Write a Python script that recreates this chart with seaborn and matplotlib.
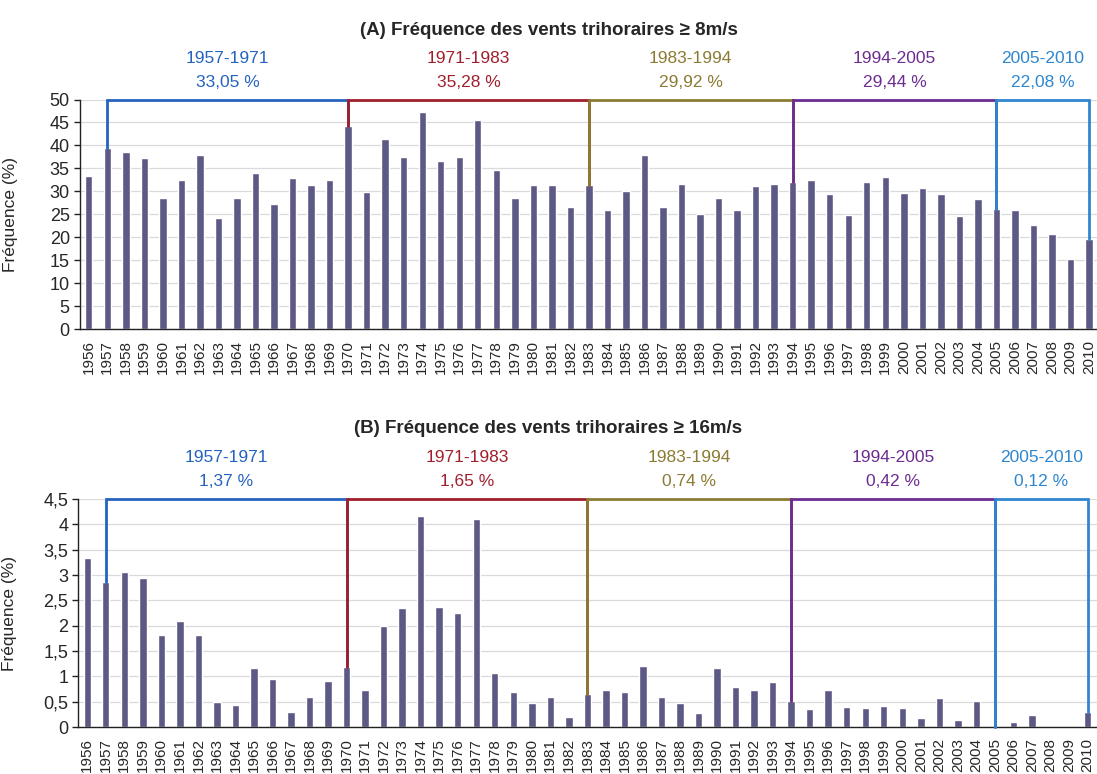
import numpy as np
import matplotlib
matplotlib.use("Agg")
import matplotlib.pyplot as plt
import matplotlib.transforms as mtransforms
import seaborn as sns

# --- data ------------------------------------------------------------------
years = [str(y) for y in range(1956, 2011)]

freq_8ms = [33.4, 39.4, 38.6, 37.2, 28.5, 32.4, 38.0, 24.2, 28.5, 34.0,
            27.3, 32.8, 31.3, 32.5, 44.3, 29.9, 41.4, 37.5, 47.2, 36.7,
            37.4, 45.6, 34.7, 28.6, 31.3, 31.3, 26.5, 31.3, 26.0, 30.0,
            38.0, 26.5, 31.6, 25.1, 28.6, 26.0, 31.2, 31.6, 32.1, 32.4,
            29.4, 24.8, 32.1, 33.2, 29.6, 30.8, 29.4, 24.6, 28.4, 26.1,
            25.9, 22.7, 20.6, 15.2, 19.7]

freq_16ms = [3.33, 2.86, 3.06, 2.95, 1.82, 2.09, 1.82, 0.49, 0.44, 1.17,
             0.94, 0.30, 0.59, 0.91, 1.19, 0.74, 2.00, 2.34, 4.16, 2.37,
             2.25, 4.10, 1.06, 0.69, 0.48, 0.59, 0.20, 0.65, 0.74, 0.69,
             1.21, 0.59, 0.48, 0.28, 1.16, 0.79, 0.73, 0.88, 0.51, 0.36,
             0.73, 0.40, 0.37, 0.41, 0.37, 0.18, 0.57, 0.14, 0.51, 0.0,
             0.10, 0.24, 0.0, 0.0, 0.29]

period_labels = ['1957-1971', '1971-1983', '1983-1994', '1994-2005', '2005-2010']
period_bounds = [('1957', '1970'), ('1970', '1983'), ('1983', '1994'),
                 ('1994', '2005'), ('2005', '2010')]
period_means_8 = ['33,05 %', '35,28 %', '29,92 %', '29,44 %', '22,08 %']
period_means_16 = ['1,37 %', '1,65 %', '0,74 %', '0,42 %', '0,12 %']
period_colors = ['#2563be', '#a01f2d', '#8b7b33', '#6d2c90', '#2e86cf']

yticks_8 = [0, 5, 10, 15, 20, 25, 30, 35, 40, 45, 50]
yticks_16 = [0, 0.5, 1, 1.5, 2, 2.5, 3, 3.5, 4, 4.5]
yticklabels_16 = ['0', '0,5', '1', '1,5', '2', '2,5', '3', '3,5', '4', '4,5']

BAR_COLOR = '#5d5985'

sns.set_style("white")
plt.rcParams['font.family'] = ['Liberation Sans', 'DejaVu Sans']


def draw_panel(ax, values, top, yticks, yticklabels, means):
    sns.barplot(x=years, y=values, color=BAR_COLOR, saturation=1,
                width=0.4, ax=ax, zorder=2)
    ax.set_xlim(-0.5, len(years) - 0.5)
    ax.set_ylim(0, top)

    ax.set_yticks(yticks)
    ax.set_yticklabels(yticklabels, fontsize=13)
    ax.yaxis.grid(True, color='#dadada', lw=0.9)
    ax.set_axisbelow(True)

    ax.set_xticks(range(len(years)))
    ax.set_xticklabels(years, rotation=90, fontsize=11)
    ax.set_xticks(np.arange(-0.5, len(years), 1), minor=True)
    ax.tick_params(axis='x', which='major', length=0, pad=8)
    ax.tick_params(axis='x', which='minor', length=4, width=1, color='#222')
    ax.tick_params(axis='y', length=4, width=1, color='#222', pad=3, left=True)

    for s in ['top', 'right']:
        ax.spines[s].set_visible(False)
    for s in ['left', 'bottom']:
        ax.spines[s].set_color('#222')
        ax.spines[s].set_linewidth(1)

    ax.set_ylabel('Fréquence (%)', fontsize=12.5)
    ax.yaxis.set_label_coords(-0.06, 0.5)
    ax.set_xlabel('')

    trans = mtransforms.blended_transform_factory(ax.transData, ax.transAxes)
    for (start, end), lab, mean, col in zip(period_bounds, period_labels, means, period_colors):
        i0, i1 = years.index(start), years.index(end)
        ax.plot([i0, i0, i1, i1], [values[i0], top, top, values[i1]],
                color=col, lw=2, clip_on=False, zorder=3,
                solid_joinstyle='miter')
        mid = (i0 + i1) / 2
        ax.text(mid, 1.18, lab, transform=trans, ha='center', va='center',
                color=col, fontsize=12.5)
        ax.text(mid, 1.075, mean, transform=trans, ha='center', va='center',
                color=col, fontsize=12.5)


fig = plt.figure(figsize=(10.97, 7.74), dpi=100)
ax_a = fig.add_axes([0.0725, 0.5749, 0.9287, 0.2965])
ax_b = fig.add_axes([0.0711, 0.0607, 0.9287, 0.2946])

draw_panel(ax_a, freq_8ms, 50, yticks_8, [str(t) for t in yticks_8], period_means_8)
draw_panel(ax_b, freq_16ms, 4.5, yticks_16, yticklabels_16, period_means_16)

fig.text(0.5, 0.961, '(A) Fréquence des vents trihoraires ≥ 8m/s',
         ha='center', va='center', fontsize=13.5, fontweight='bold')
fig.text(0.5, 0.447, '(B) Fréquence des vents trihoraires ≥ 16m/s',
         ha='center', va='center', fontsize=13.5, fontweight='bold')

fig.savefig('out.png', dpi=100)
